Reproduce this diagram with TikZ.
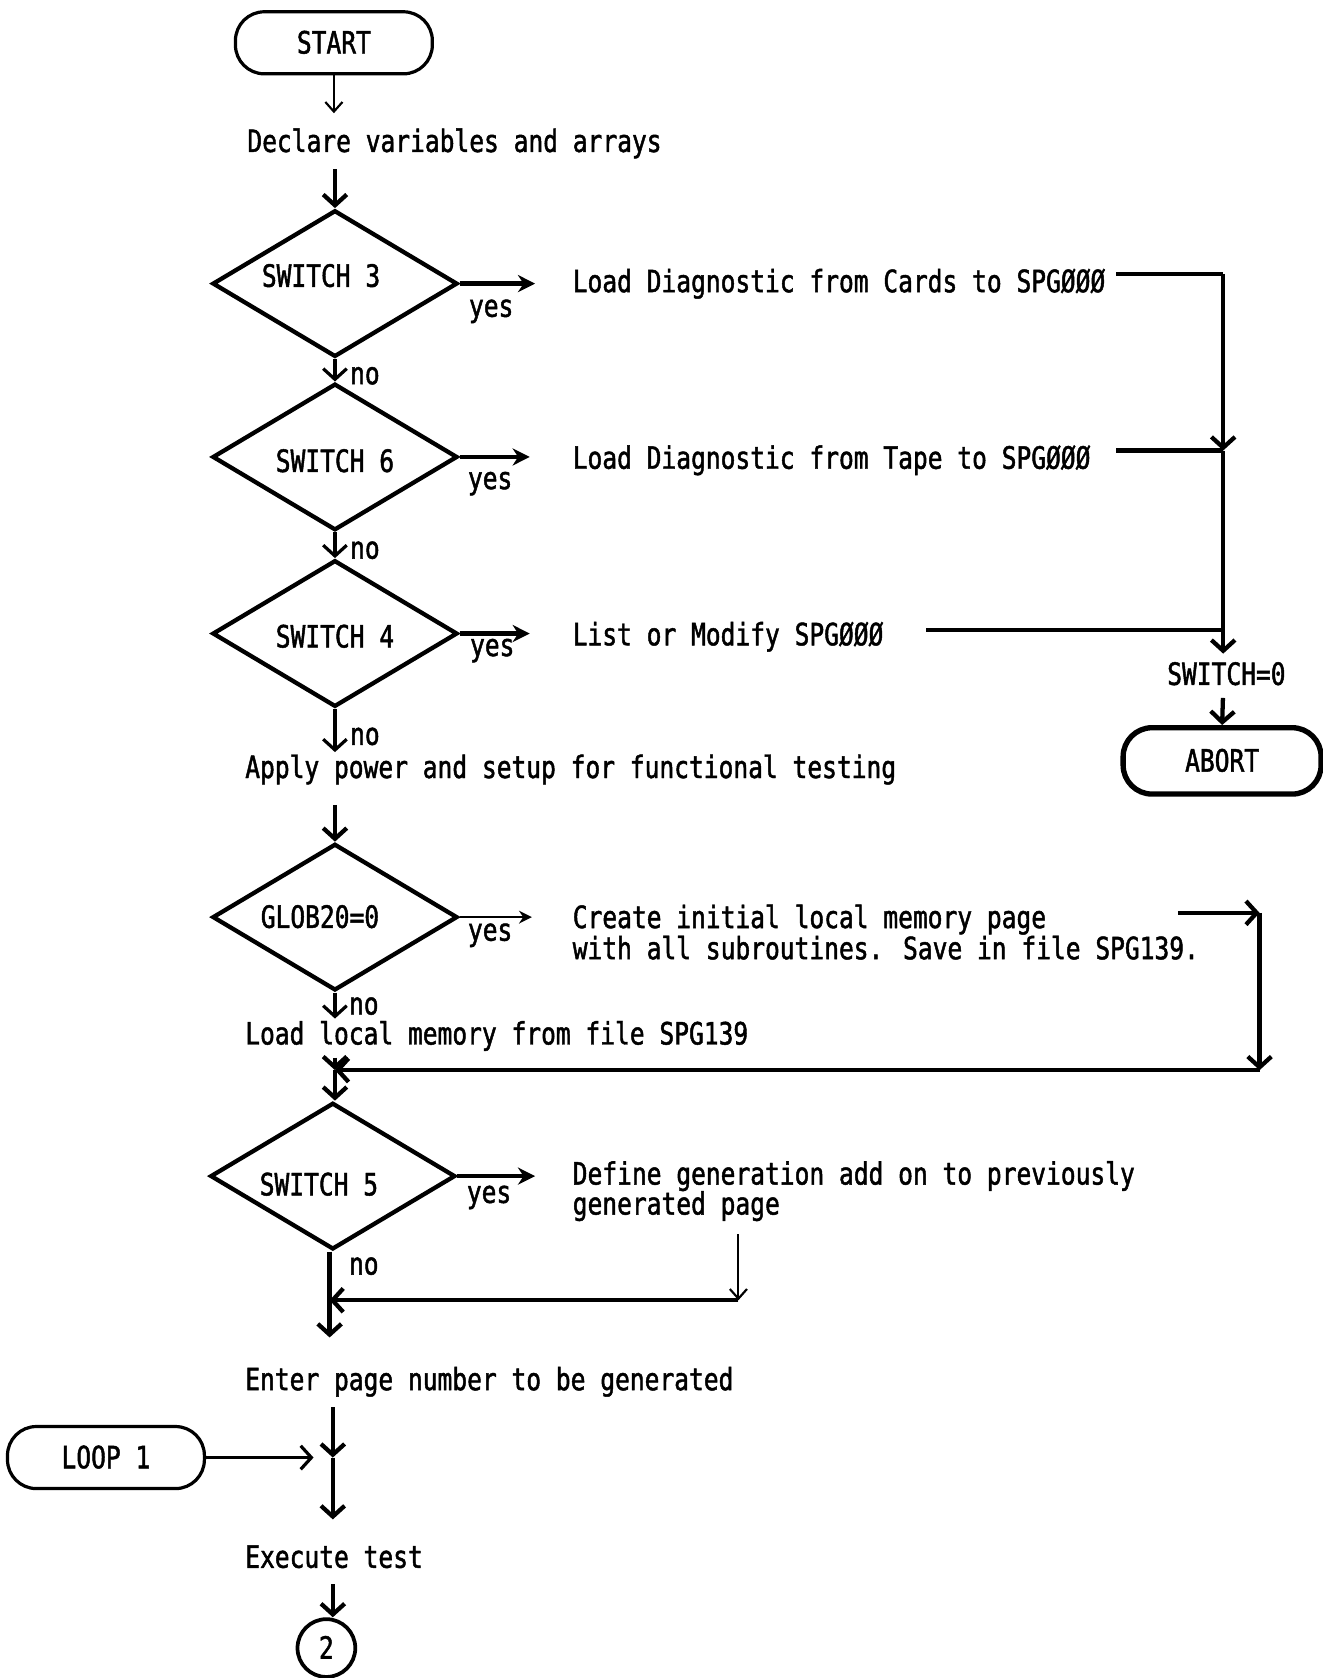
\documentclass[tikz,border=0pt]{standalone}
\usepackage{fontspec}
\newfontfamily\flowmono[FakeStretch=0.8,FakeBold=1.5]{DejaVu Sans Mono}
\usetikzlibrary{shapes.geometric,arrows.meta,calc}
\newcommand\dlabel[3]{\raisebox{#2pt}{#3}\hspace*{#1pt}}
\begin{document}
\begin{tikzpicture}[x=1pt,y=-1pt,
  every node/.style={font=\flowmono\fontsize{28.7pt}{28pt}\selectfont, inner sep=0pt},
  one/.style={text height=24pt, text depth=4pt},
  txt/.style={anchor=west, align=left},
  term/.style={draw, line width=3pt, rounded corners=27pt, minimum width=184pt, minimum height=58pt, one},
  dec/.style={draw, diamond, aspect=1.67, line width=4pt, minimum width=229pt, minimum height=137pt, one},
  flow/.style={line width=4pt, -{Straight Barb[length=10pt,width=22pt]}},
  thinflow/.style={line width=2pt, -{Straight Barb[length=9pt,width=16pt]}},
  yesflow/.style={line width=4pt, -{Stealth[length=16pt,width=16pt]}},
  thinyes/.style={line width=2.5pt, -{Stealth[length=12pt,width=12pt]}},
  plain/.style={line width=4pt},
]
\useasboundingbox (0,0) rectangle (1236,1568);

% main column
\node[term] (start) at (312,40) {START};
\node[txt,one] (declare) at (231,132) {Declare variables and arrays};
\node[dec] (s3) at (313,265) {\dlabel{26}{7}{SWITCH 3}};
\node[dec] (s6) at (313,427) {\dlabel{0}{-4}{SWITCH 6}};
\node[dec] (s4) at (313,592) {\dlabel{0}{-3}{SWITCH 4}};
\node[txt,one] (apply) at (229,717) {Apply power and setup for functional testing};
\node[dec] (glob) at (313,857) {\dlabel{28}{0}{GLOB20=0}};
\node[txt,one] (loadlocal) at (229,966) {Load local memory from file SPG139};
\node[dec] (s5) at (311,1099) {\dlabel{26}{-8}{SWITCH 5}};
\node[txt,one] (enter) at (229,1289) {Enter page number to be generated};
\node[term] (loop) at (99,1362) {LOOP 1};
\node[txt,one] (exec) at (229,1455) {Execute test};
\node[draw, circle, line width=3.5pt, minimum size=54pt, one] (c2) at (305,1540) {2};

% right texts
\node[txt,one] (cards) at (535,263) {Load Diagnostic from Cards to SPGØØØ};
\node[txt,one] (tape) at (535,428) {Load Diagnostic from Tape to SPGØØØ};
\node[txt,one] (modify) at (535,593) {List or Modify SPGØØØ};
\node[one] (sw0) at (1146,630) {SWITCH=0};
\node[term, line width=5pt, minimum width=185pt, minimum height=62pt] (abort) at (1142,711) {ABORT};
\node[txt] (create) at (535,871) {Create initial local memory page\\with all subroutines.  Save in file SPG139.};
\node[txt] (define) at (535,1113) {Define generation add on to previously\\generated page};

% yes / no labels
\node[one] (y3) at (459,286) {yes};
\node[one] (y6) at (458,447) {yes};
\node[one] (y4) at (460,603) {yes};
\node[one] (yg) at (458,869) {yes};
\node[one] (y5) at (457,1114) {yes};
\node[one] (n3) at (341,349) {no};
\node[one] (n6) at (341,512) {no};
\node[one] (n4) at (341,686) {no};
\node[one] (ng) at (340,938) {no};
\node[one] (n5) at (340,1181) {no};

% coordinates
\coordinate (c1) at (1143,256);
\coordinate (j1) at (1143,421);
\coordinate (j2) at (1143,589);
\coordinate (r1) at (1177,853);
\coordinate (r2) at (1177,1000);
\coordinate (m1) at (313,1000);
\coordinate (d1) at (690,1215);
\coordinate (m2) at (308,1215);
\coordinate (m3) at (311,1362);

% main flow
\draw[thinflow, shorten >=12pt] (start.south) -- (start.south |- declare.north);
\draw[flow, shorten <=12pt] (declare.south -| s3) -- (s3.north);
\draw[flow, line width=3pt] (s3.south) -- (s6.north);
\draw[flow, line width=3pt] (s6.south) -- (s4.north);
\draw[flow, line width=3pt] (s4.south) -- (apply.north -| s4);
\draw[flow, shorten <=21pt] (apply.south -| glob) -- (glob.north);
\draw[flow, line width=3pt] (glob.south) -- (loadlocal.north -| glob);
\draw[flow, shorten <=8pt] (loadlocal.south -| glob) -- (m1);
\draw[flow] (m1) -- (m1 |- s5.north);
\draw[flow, shorten >=25pt] (s5.south -| m2) -- (enter.north -| m2);
\draw[flow, shorten <=12pt] (enter.south -| m3) -- (m3);
\draw[flow, shorten >=21pt] (m3) -- (exec.north -| m3);
\draw[flow, line width=3pt, shorten >=18pt] (loop.east) -- (m3);
\draw[flow, shorten <=11pt] (exec.south -| m3) -- (c2.north -| m3);

% yes branches
\draw[yesflow, shorten >=35pt] (s3.east) -- (cards.west |- s3.east);
\draw[yesflow, shorten >=40pt] (s6.east) -- (tape.west |- s6.east);
\draw[yesflow, shorten >=40pt] (s4.east) -- (modify.west |- s4.east);
\draw[thinyes, shorten >=38pt] (glob.east) -- (create.west |- glob.east);
\draw[yesflow, shorten >=35pt] (s5.east) -- (define.west |- s5.east);

% right merge to abort
\draw[plain] ($(cards.east |- c1)+(10,0)$) -- (c1);
\draw[flow] (c1) -- (j1);
\draw[plain] ($(tape.east |- j1)+(24,0)$) -- (j1);
\draw[plain] ($(modify.east |- j2)+(40,0)$) -- (j2);
\draw[flow, shorten >=5pt] (j1) -- (sw0.north -| j1);
\draw[flow, shorten <=8pt] (sw0.south -| j1) -- (abort.north);

% create loop back
\draw[flow] ($(create.east |- r1)+(-20,0)$) -- (r1);
\draw[flow] (r1) -- (r2);
\draw[flow] (r2) -- (m1);

% define loop back
\draw[thinflow, shorten <=12pt] (define.south -| d1) -- (d1);
\draw[flow] (d1) -- (m2);
\end{tikzpicture}
\end{document}
